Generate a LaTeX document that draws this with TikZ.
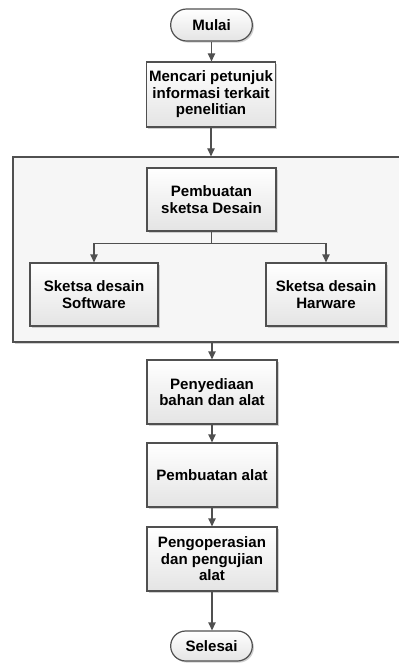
\documentclass[tikz,border=0pt]{standalone}
\usepackage{fontspec}
\setmainfont{Liberation Sans}
\usetikzlibrary{arrows.meta,shadows,shapes.misc}
\definecolor{edge}{HTML}{505050}
\definecolor{boxbot}{HTML}{E4E4E4}
\definecolor{contfill}{HTML}{F6F6F6}
\tikzset{
  base/.style={draw=edge, line width=0.9pt, align=center, inner sep=2pt,
    font=\fontsize{11.3}{12.3}\selectfont\bfseries,
    drop shadow={shadow xshift=1.2pt, shadow yshift=-1.2pt, fill=black!30, opacity=0.6}},
  procbox/.style={base, rectangle, top color=white, bottom color=boxbot},
  termbox/.style={base, rounded rectangle, top color=white, bottom color=boxbot},
  contbox/.style={draw=edge, line width=0.9pt, rectangle, fill=contfill,
    drop shadow={shadow xshift=1.2pt, shadow yshift=-1.2pt, fill=black!30, opacity=0.6}},
  arr/.style={draw=edge, line width=0.9pt, -{Triangle[length=6pt, width=5.5pt]}},
}
\begin{document}
\begin{tikzpicture}[x=0.75pt, y=-0.75pt]
\path[use as bounding box, fill=white] (0,0) rectangle (399,663);
\begin{scope}
\clip (0,0) rectangle (399,663);
\node[contbox, minimum width={400*0.75pt}, minimum height={185*0.75pt}] (cont) at (213,249.5) {};
\end{scope}
\node[termbox, minimum width={87*0.75pt}, minimum height={32*0.75pt}] (mulai) at (211.5,25) {Mulai};
\node[procbox, minimum width={125*0.75pt}, minimum height={65*0.75pt}] (cari) at (211,94.5) {Mencari petunjuk\\informasi terkait\\penelitian};
\node[procbox, minimum width={129*0.75pt}, minimum height={63*0.75pt}] (sketsa) at (211.5,199.5) {Pembuatan\\sketsa Desain};
\node[procbox, minimum width={128*0.75pt}, minimum height={63*0.75pt}] (soft) at (94,294.5) {Sketsa desain\\Software};
\node[procbox, minimum width={120*0.75pt}, minimum height={63*0.75pt}] (hard) at (326,294.5) {Sketsa desain\\Harware};
\node[procbox, minimum width={130*0.75pt}, minimum height={64*0.75pt}] (sedia) at (212,392) {Penyediaan\\bahan dan alat};
\node[procbox, minimum width={130*0.75pt}, minimum height={64*0.75pt}] (alat) at (212,475) {Pembuatan alat};
\node[procbox, minimum width={130*0.75pt}, minimum height={64*0.75pt}] (ops) at (212,559) {Pengoperasian\\dan pengujian\\alat};
\node[termbox, minimum width={87*0.75pt}, minimum height={30*0.75pt}] (selesai) at (211.5,646) {Selesai};

\draw[arr] (mulai.south) -- (mulai.south |- cari.north);
\draw[arr] (cari.south) -- (cari.south |- cont.north);
\draw[arr] (sketsa.south) -- ++(0,12) -| (soft.north);
\draw[arr] (sketsa.south) -- ++(0,12) -| (hard.north);
\draw[arr] (sedia.north |- cont.south) -- (sedia.north);
\draw[arr] (sedia.south) -- (alat.north);
\draw[arr] (alat.south) -- (ops.north);
\draw[arr] (ops.south) -- (ops.south |- selesai.north);
\end{tikzpicture}
\end{document}
